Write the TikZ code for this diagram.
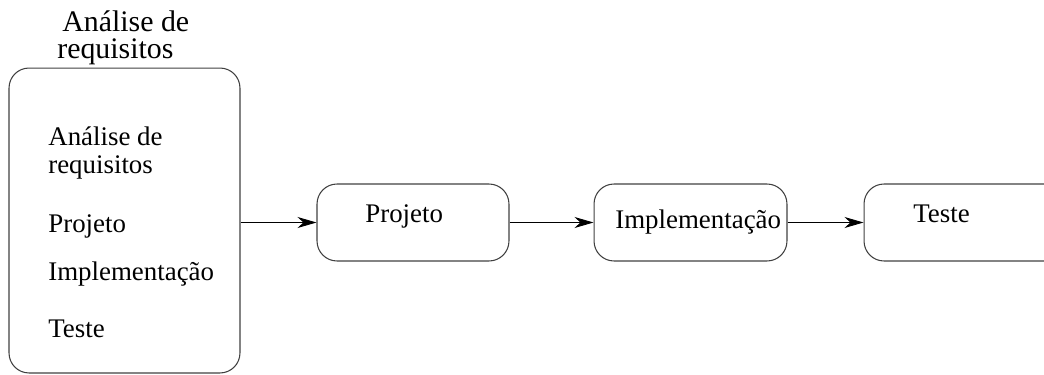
\documentclass[tikz,border=0pt]{standalone}
\usepackage{fontspec}
\setmainfont{Liberation Serif}
\usetikzlibrary{arrows.meta,positioning}

\begin{document}
\begin{tikzpicture}[
  x=0.02cm, y=-0.02cm,
  fase/.style={draw=black!75, line width=0.6pt, rounded corners=0.4cm, minimum height=1.54cm, inner sep=0pt},
  rotulo/.style={anchor=base west, inner sep=0pt, font=\fontsize{15.3}{16}\selectfont},
  titulo/.style={anchor=base west, inner sep=0pt, align=left, font=\fontsize{17}{15.8}\selectfont},
  seta/.style={-{Stealth[length=3.8mm, width=2.2mm, inset=1.2mm]}, line width=0.5pt}
]
\useasboundingbox (0,0) rectangle (1044,375);
% modelo em cascata: visao geral
\node[titulo] (tit) at (57,59) {\hspace{0.1cm}Análise de\\requisitos};
\node[fase, minimum width=4.62cm, minimum height=6.1cm] (fases) at (124.5,220.5) {};
\node[rotulo] (f1a) at (48,145) {Análise de};
\node[rotulo] (f1b) at (48,173) {requisitos};
\node[rotulo] (f2) at (48,232) {Projeto};
\node[rotulo] (f3) at (48,280) {Implementação};
\node[rotulo] (f4) at (48,337) {Teste};
% etapas
\node[fase, minimum width=3.84cm] (projeto) at (413,222.5) {};
\node[fase, minimum width=3.86cm] (implem) at (690.5,222.5) {};
\node[fase, minimum width=4cm] (teste) at (964,222.5) {};
\node[rotulo] (lprojeto) at (365,222) {Projeto};
\node[rotulo] (limplem) at (615,228) {Implementação};
\node[rotulo] (lteste) at (913,222) {Teste};
\draw[seta] (fases.east |- projeto.west) -- (projeto.west);
\draw[seta] (projeto) -- (implem);
\draw[seta] (implem) -- (teste);
\end{tikzpicture}
\end{document}
